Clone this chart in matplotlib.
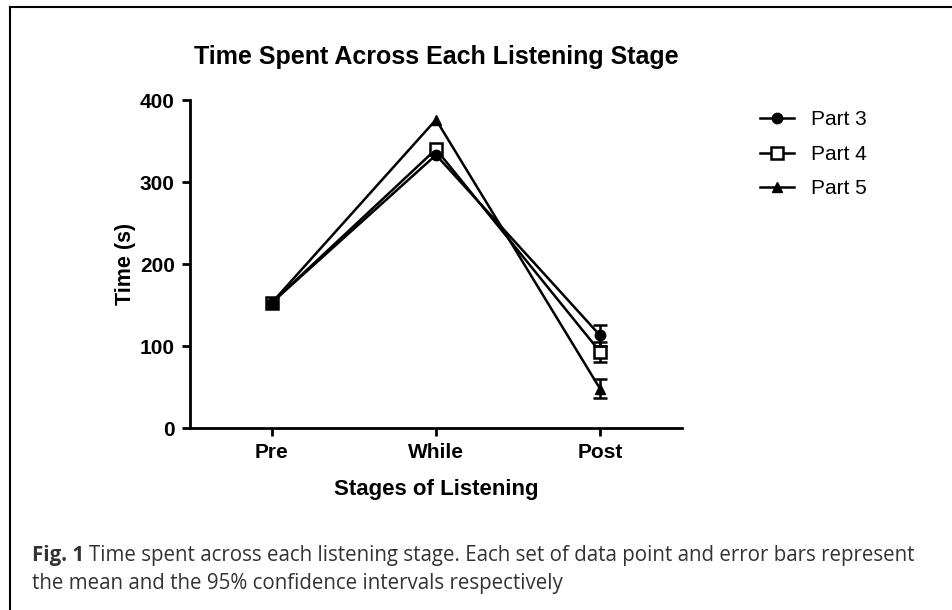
import numpy as np
import matplotlib.pyplot as plt
from matplotlib.lines import Line2D

plt.rcParams['font.family'] = ['Liberation Sans', 'DejaVu Sans']

# data
stages = ['Pre', 'While', 'Post']
part3 = [153, 333, 113]
part4 = [153, 340, 93]
part5 = [153, 376, 48]
# 95% CI half-widths; only the Post ones stick out from the markers
part3_err = [0, 0, 13]
part4_err = [0, 0, 12]
part5_err = [0, 0, 12]

fig = plt.figure(figsize=(9.52, 6.1), dpi=100)
ax = fig.add_axes([190 / 952, 1 - 428 / 610, 492 / 952, 328 / 610])

x = np.arange(len(stages))
lw = 1.8

series = [
    ('Part 4', part4, part4_err, dict(marker='s', markersize=8, markerfacecolor='white',
                                       markeredgewidth=1.8), 3),
    ('Part 3', part3, part3_err, dict(marker='o', markersize=7.5), 4),
    ('Part 5', part5, part5_err, dict(marker='^', markersize=6.5), 5),
]
handles = {}
for name, vals, err, mk, z in series:
    line, = ax.plot(x, vals, color='black', linewidth=lw, markeredgecolor='black',
                    zorder=z, **mk)
    ax.errorbar(x[-1:], vals[-1:], yerr=err[-1:], fmt='none', ecolor='black',
                elinewidth=lw, capsize=5, capthick=lw, zorder=z - 0.5)
    handles[name] = line

ax.set_xlim(-0.5, 2.5)
ax.set_ylim(0, 400)
ax.set_yticks([0, 100, 200, 300, 400])
ax.set_xticks(x)
ax.set_xticklabels(stages)

for side in ['top', 'right']:
    ax.spines[side].set_visible(False)
for side in ['left', 'bottom']:
    ax.spines[side].set_linewidth(2)
ax.tick_params(width=2, length=6, labelsize=15, pad=5)
for lab in ax.get_xticklabels() + ax.get_yticklabels():
    lab.set_fontweight('bold')

ax.set_xlabel('Stages of Listening', fontsize=16, fontweight='bold', labelpad=12)
ax.set_ylabel('Time (s)', fontsize=15.5, fontweight='bold', labelpad=3)
ax.set_title('Time Spent Across Each Listening Stage', fontsize=18, fontweight='bold', pad=26)

names = ['Part 3', 'Part 4', 'Part 5']
ax.legend([handles[n] for n in names], names,
          loc='upper left', bbox_to_anchor=(750 / 952, 1 - 100 / 610),
          bbox_transform=fig.transFigure, frameon=False, fontsize=15,
          handlelength=1.6, handletextpad=0.85, labelspacing=0.74, borderpad=0)

# frame around figure (left and top only visible)
fig.add_artist(Line2D([10 / 952, 10 / 952], [0, 1 - 7 / 610], transform=fig.transFigure,
                      color='black', linewidth=1.5))
fig.add_artist(Line2D([10 / 952, 1], [1 - 7 / 610, 1 - 7 / 610], transform=fig.transFigure,
                      color='black', linewidth=1.5))

# caption
cap_font = ['Open Sans', 'DejaVu Sans']
cap_size = 14.8
t = fig.text(32 / 952, 1 - 555 / 610, 'Fig. 1', fontsize=cap_size, fontweight='bold',
             family=cap_font, color='#333333', va='center')
fig.canvas.draw()
bb = t.get_window_extent()
fig.text((bb.x1 + 5) / 952, 1 - 555 / 610,
         'Time spent across each listening stage. Each set of data point and error bars represent',
         fontsize=cap_size, family=cap_font, color='#333333', va='center')
fig.text(32 / 952, 1 - 583 / 610, 'the mean and the 95% confidence intervals respectively',
         fontsize=cap_size, family=cap_font, color='#333333', va='center')

fig.savefig('out.png', dpi=100)
